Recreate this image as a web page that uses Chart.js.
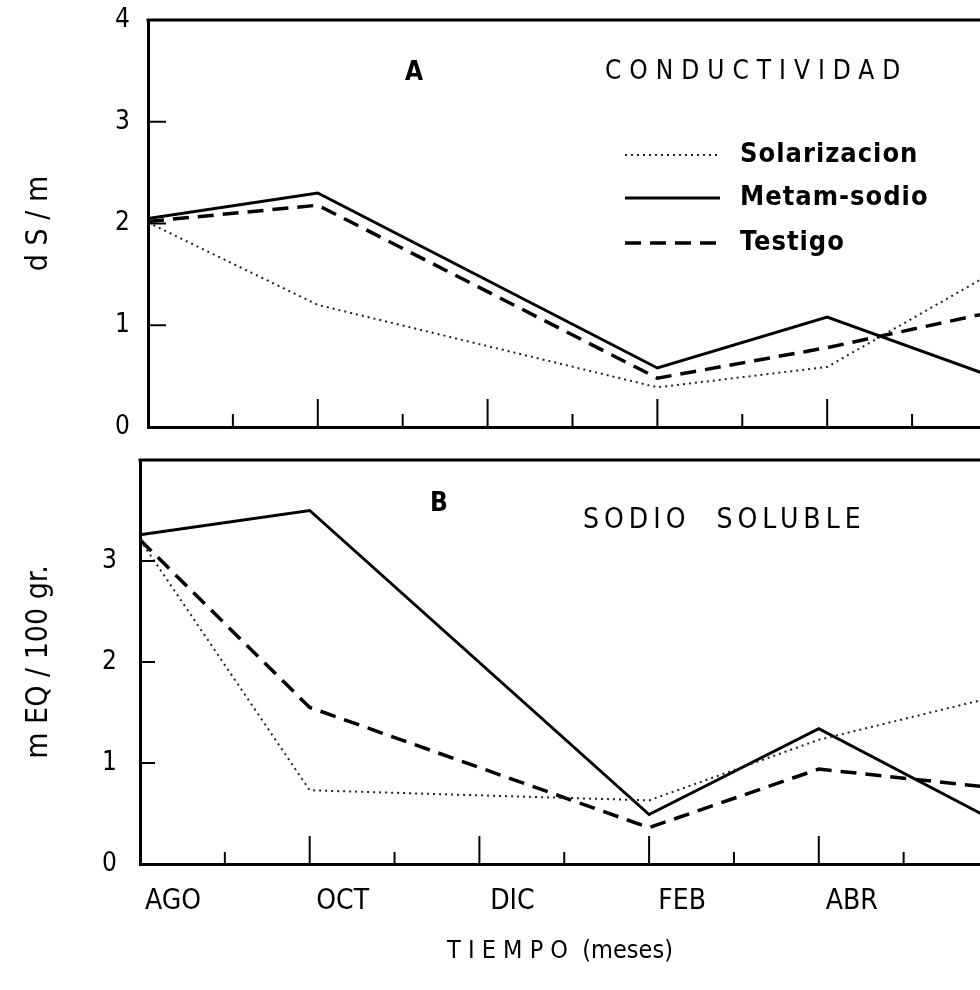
<!DOCTYPE html>
<html>
<head>
<meta charset="utf-8">
<script src="https://cdn.jsdelivr.net/npm/chart.js@4.4.1/dist/chart.umd.min.js"></script>
<style>
  body { margin: 0; background: #fff; }
  #wrap { position: relative; width: 980px; height: 990px; background: #fff; overflow: hidden; }
  #chartA { position: absolute; left: 0; top: 0; }
  #chartB { position: absolute; left: 0; top: 440px; }
</style>
</head>
<body>
<div id="wrap">
  <canvas id="chartA" width="980" height="440"></canvas>
  <canvas id="chartB" width="980" height="550"></canvas>
</div>
<script>
"use strict";

// data
var months = ["AGO", "SEP", "OCT", "NOV", "DIC", "ENE", "FEB", "MAR", "ABR", "MAY", "JUN"];
var labelledMonths = ["AGO", "OCT", "DIC", "FEB", "ABR"];
var sampleMonths = ["AGO", "OCT", "FEB", "ABR", "JUN"];
var yTicks = [0, 1, 2, 3, 4];

// A - conductividad (dS/m)
var condSolarizacion = [2.01, 1.2, 0.39, 0.59, 1.54];
var condMetam = [2.05, 2.3, 0.58, 1.08, 0.48];
var condTestigo = [2.02, 2.18, 0.48, 0.78, 1.14];

// B - sodio soluble (mEq/100 gr.)
var sodioSolarizacion = [3.21, 0.73, 0.63, 1.23, 1.64];
var sodioMetam = [3.26, 3.5, 0.49, 1.34, 0.46];
var sodioTestigo = [3.21, 1.55, 0.36, 0.94, 0.76];

var FONT = "'DejaVu Sans Condensed', 'DejaVu Sans', sans-serif";
Chart.defaults.color = "#000";
Chart.defaults.font.family = FONT;

function points(values) {
  return sampleMonths.map(function (m, i) {
    return { x: months.indexOf(m), y: values[i] };
  });
}

function series(label, values, style) {
  var ds = {
    label: label,
    data: points(values),
    borderColor: "#000",
    backgroundColor: "#000",
    borderWidth: 3,
    borderJoinStyle: "miter",
    pointRadius: 0,
    tension: 0,
    fill: false,
  };
  if (style === "dot") {
    ds.borderWidth = 2;
    ds.borderColor = "#222";
    ds.borderDash = [2, 4];
  }
  if (style === "dash") {
    ds.borderWidth = 3.5;
    ds.borderDash = [16, 9];
  }
  return ds;
}

// scale label overhang should not push the plot area in
function noOverhang(scale) {
  scale.paddingTop = 0;
  scale.paddingBottom = 0;
  scale.paddingLeft = 0;
  scale.paddingRight = 0;
}

// frame top line + inward tick marks
var frameTicks = {
  id: "frameTicks",
  afterDraw: function (chart, args, opts) {
    var ctx = chart.ctx;
    var a = chart.chartArea;
    var x = chart.scales.x;
    var y = chart.scales.y;
    ctx.save();
    ctx.strokeStyle = "#000";
    ctx.lineWidth = 3;
    ctx.beginPath();
    ctx.moveTo(a.left - 1.5, a.top);
    ctx.lineTo(a.right, a.top);
    ctx.stroke();
    ctx.lineWidth = 2;
    months.forEach(function (m, i) {
      if (i === 0 || i > x.max) return;
      var px = x.getPixelForValue(i);
      var len = i % 2 === 0 ? opts.major : opts.minor;
      ctx.beginPath();
      ctx.moveTo(px, a.bottom);
      ctx.lineTo(px, a.bottom - len);
      ctx.stroke();
    });
    yTicks.forEach(function (v) {
      if (v <= y.min || v >= y.max) return;
      var py = y.getPixelForValue(v);
      ctx.beginPath();
      ctx.moveTo(a.left, py);
      ctx.lineTo(a.left + opts.yLen, py);
      ctx.stroke();
    });
    ctx.restore();
  },
};

// panel letters, titles and the line key
var panelText = {
  id: "panelText",
  afterDraw: function (chart, args, opts) {
    var ctx = chart.ctx;
    ctx.save();
    ctx.fillStyle = "#000";
    ctx.textBaseline = "middle";
    (opts.items || []).forEach(function (t) {
      ctx.font = t.font + " " + FONT;
      ctx.letterSpacing = (t.spacing || 0) + "px";
      ctx.textAlign = t.align || "left";
      ctx.fillText(t.text, t.x, t.y);
    });
    var key = opts.key;
    if (key) {
      chart.data.datasets.forEach(function (ds, i) {
        var yy = key.rows[i];
        ctx.strokeStyle = ds.borderColor;
        ctx.lineWidth = ds.borderWidth;
        ctx.setLineDash(ds.borderDash || []);
        ctx.beginPath();
        ctx.moveTo(key.x0, yy);
        ctx.lineTo(key.x1, yy);
        ctx.stroke();
        ctx.setLineDash([]);
        ctx.font = key.font + " " + FONT;
        ctx.letterSpacing = key.spacing + "px";
        ctx.textAlign = "left";
        ctx.fillText(ds.label, key.textX, yy);
      });
    }
    ctx.restore();
  },
};

function xScale(max, showLabels) {
  return {
    type: "linear",
    min: 0,
    max: max,
    grid: { display: false, drawTicks: false },
    border: { display: true, color: "#000", width: 3 },
    ticks: {
      display: showLabels,
      stepSize: 1,
      autoSkip: false,
      maxRotation: 0,
      padding: 21,
      labelOffset: 33,
      font: { size: 28, lineHeight: 1.2 },
      callback: function (v) {
        var m = months[v];
        return labelledMonths.indexOf(m) >= 0 ? m : "";
      },
    },
    title: {
      display: showLabels,
      text: "T I E M P O  (meses)",
      font: { size: 25, lineHeight: 1.2 },
      padding: { top: 0, bottom: 24 },
    },
    afterFit: function (scale) {
      scale.height = showLabels ? 126 : 0;
      noOverhang(scale);
    },
  };
}

function yScale(title, width, pad, showTop) {
  return {
    min: 0,
    max: 4,
    grid: { display: false, drawTicks: false },
    border: { display: true, color: "#000", width: 3 },
    ticks: {
      stepSize: 1,
      padding: pad,
      font: { size: 26, lineHeight: 1 },
      callback: function (v) {
        if (yTicks.indexOf(v) < 0) return "";
        return v === 4 && !showTop ? "" : String(v);
      },
    },
    title: {
      display: true,
      text: title,
      font: { size: 30, lineHeight: 1.2 },
      padding: { top: 21, bottom: 0 },
    },
    afterFit: function (scale) {
      scale.width = width;
      noOverhang(scale);
    },
  };
}

// chart A
new Chart(document.getElementById("chartA"), {
  type: "line",
  data: {
    datasets: [
      series("Solarizacion", condSolarizacion, "dot"),
      series("Metam-sodio", condMetam, "solid"),
      series("Testigo", condTestigo, "dash"),
    ],
  },
  options: {
    responsive: false,
    animation: false,
    layout: { padding: { top: 20, bottom: 13, left: 0, right: 0 } },
    scales: {
      x: xScale(9.8, false),
      y: yScale("d S / m", 148, 18, true),
    },
    plugins: {
      legend: { display: false },
      tooltip: { enabled: false },
      frameTicks: { major: 28, minor: 13, yLen: 18 },
      panelText: {
        items: [
          { text: "A", x: 414, y: 73, font: "bold 26px", align: "center" },
          { text: "CONDUCTIVIDAD", x: 605, y: 72, font: "26px", spacing: 8 },
        ],
        key: { x0: 625, x1: 720, textX: 740, rows: [155, 198, 243], font: "bold 27px", spacing: 1 },
      },
    },
  },
  plugins: [frameTicks, panelText],
});

// chart B
new Chart(document.getElementById("chartB"), {
  type: "line",
  data: {
    datasets: [
      series("Solarizacion", sodioSolarizacion, "dot"),
      series("Metam-sodio", sodioMetam, "solid"),
      series("Testigo", sodioTestigo, "dash"),
    ],
  },
  options: {
    responsive: false,
    animation: false,
    layout: { padding: { top: 20, bottom: 0, left: 0, right: 0 } },
    scales: {
      x: xScale(9.9, true),
      y: yScale("m EQ / 100 gr.", 140, 23, false),
    },
    plugins: {
      legend: { display: false },
      tooltip: { enabled: false },
      frameTicks: { major: 28, minor: 12, yLen: 15 },
      panelText: {
        items: [
          { text: "B", x: 439, y: 64, font: "bold 26px", align: "center" },
          { text: "SODIO  SOLUBLE", x: 583, y: 81, font: "28px", spacing: 5 },
        ],
      },
    },
  },
  plugins: [frameTicks, panelText],
});
</script>
</body>
</html>
